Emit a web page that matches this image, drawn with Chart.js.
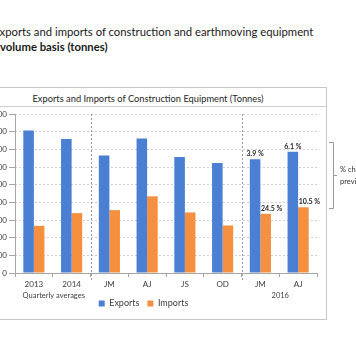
<!DOCTYPE html>
<html>
<head>
<meta charset="utf-8">
<script src="https://cdn.jsdelivr.net/npm/chart.js@4"></script>
<style>
  html, body { margin: 0; padding: 0; width: 356px; height: 364px; overflow: hidden; background: #fff; font-family: Lato, "Open Sans", sans-serif; }
  #pt1, #pt2 { position: absolute; white-space: nowrap; font-size: 11.3px; color: #1a1a1a; line-height: 15px; }
  #pt1 { left: -7px; top: 24px; }
  #pt2 { left: 0px; top: 39px; font-weight: bold; }
  #frame { position: absolute; left: -31px; top: 87px; width: 358px; height: 233px; box-sizing: border-box; border: 1px solid #c8c8c8; background: #fff; }
  #ctitle { height: 19px; border-bottom: 1px solid #d0d0d0; text-align: center; font-size: 9.3px; line-height: 19px; padding-top: 1px; box-sizing: border-box; color: #262626; white-space: nowrap; }
  #wrap { position: relative; width: 356px; height: 211px; }
  #side { position: absolute; left: 0; top: 0; }
  .note { position: absolute; left: 340px; font-size: 7.5px; color: #333; white-space: nowrap; }
</style>
</head>
<body>
<div id="pt1">Exports and imports of construction and earthmoving equipment</div>
<div id="pt2">volume basis (tonnes)</div>
<div id="frame">
  <div id="ctitle">Exports and Imports of Construction Equipment (Tonnes)</div>
  <div id="wrap"><canvas id="c" width="356" height="211"></canvas></div>
</div>
<svg id="side" width="356" height="364">
  <path d="M329 142.5 H333.5 V208.5 H329 M333.5 175.5 H337" fill="none" stroke="#9a9a9a" stroke-width="1"/>
</svg>
<div class="note" style="top:165px">% change on</div>
<div class="note" style="top:177px">previous year</div>
<script>
const categories = ["2013", "2014", "JM", "AJ", "JS", "OD", "JM", "AJ"];
const exportsValues = [8070, 7580, 6650, 7610, 6560, 6220, 6440, 6860];
const importsValues = [2670, 3390, 3560, 4340, 3430, 2690, 3350, 3720];
const exportsChange = [null, null, null, null, null, null, "3.9 %", "6.1 %"];
const importsChange = [null, null, null, null, null, null, "24.5 %", "10.5 %"];
const groupLabels = [
  { text: "Quarterly averages", from: 0, to: 1 },
  { text: "2016", from: 6, to: 7 }
];
const separatorsAfter = [1, 5];
const yTicks = { min: 0, max: 9000, step: 1000 };

const textColor = "#404040";
const FONT = "Lato, 'Open Sans', sans-serif";

const extras = {
  id: "extras",
  beforeDatasetsDraw(chart) {
    const ctx = chart.ctx;
    const area = chart.chartArea;
    ctx.save();
    ctx.strokeStyle = "#a6a6a6";
    ctx.lineWidth = 1;
    const lx = Math.round(area.left) + 0.5;
    ctx.beginPath();
    ctx.moveTo(lx, area.top);
    ctx.lineTo(lx, area.bottom);
    ctx.stroke();
    ctx.restore();
  },
  afterDatasetsDraw(chart) {
    const ctx = chart.ctx;
    const x = chart.scales.x;
    const area = chart.chartArea;
    ctx.save();
    // vertical dashed separators
    ctx.strokeStyle = "#9a9a9a";
    ctx.lineWidth = 1;
    ctx.setLineDash([2, 2]);
    separatorsAfter.forEach(i => {
      const px = Math.round((x.getPixelForValue(i) + x.getPixelForValue(i + 1)) / 2) + 0.5;
      ctx.beginPath();
      ctx.moveTo(px, area.top);
      ctx.lineTo(px, area.bottom + 7);
      ctx.stroke();
    });
    ctx.setLineDash([]);
    // change labels
    ctx.font = "bold 7px " + FONT;
    ctx.fillStyle = "#262626";
    ctx.textAlign = "center";
    ctx.textBaseline = "bottom";
    [[0, exportsChange, 0], [1, importsChange, 6]].forEach(([di, labels, dx]) => {
      const meta = chart.getDatasetMeta(di);
      labels.forEach((t, i) => {
        if (!t) return;
        const el = meta.data[i];
        ctx.fillText(t, el.x + dx, el.y - 2);
      });
    });
    // group labels
    ctx.font = "7.5px " + FONT;
    ctx.fillStyle = textColor;
    ctx.textBaseline = "middle";
    groupLabels.forEach(g => {
      const cx = (x.getPixelForValue(g.from) + x.getPixelForValue(g.to)) / 2 + 1;
      ctx.fillText(g.text, cx, area.bottom + 23);
    });
    ctx.restore();
  }
};

new Chart(document.getElementById("c"), {
  type: "bar",
  data: {
    labels: categories,
    datasets: [
      { label: "Exports", data: exportsValues, backgroundColor: "#4a7fd4" },
      { label: "Imports", data: importsValues, backgroundColor: "#f4903f" }
    ]
  },
  options: {
    responsive: false,
    animation: false,
    devicePixelRatio: 1,
    layout: { padding: { top: 7, right: 9, left: 0, bottom: 0 } },
    datasets: { bar: { categoryPercentage: 0.56, barPercentage: 1 } },
    plugins: {
      title: { display: false },
      tooltip: { enabled: false },
      legend: {
        position: "bottom",
        labels: { boxWidth: 6, boxHeight: 6, padding: 8, color: textColor, font: { family: FONT, size: 9 } }
      }
    },
    scales: {
      x: {
        afterFit(s) { s.height = 18; },
        grid: { offset: true, drawOnChartArea: false, tickLength: 4, color: "#a6a6a6" },
        border: { color: "#a6a6a6" },
        ticks: { color: textColor, padding: 3, font: { family: FONT, size: 8 }, maxRotation: 0, autoSkip: false }
      },
      y: {
        min: yTicks.min, max: yTicks.max,
        afterFit(s) { s.width = 45; },
        grid: { color: "#cfcfcf", tickLength: 6, tickColor: "#a6a6a6", tickBorderDash: [] },
        border: { display: false, dash: [2, 2] },
        ticks: { stepSize: yTicks.step, color: textColor, padding: 2, font: { family: FONT, size: 8 } }
      }
    }
  },
  plugins: [extras]
});
</script>
</body>
</html>
